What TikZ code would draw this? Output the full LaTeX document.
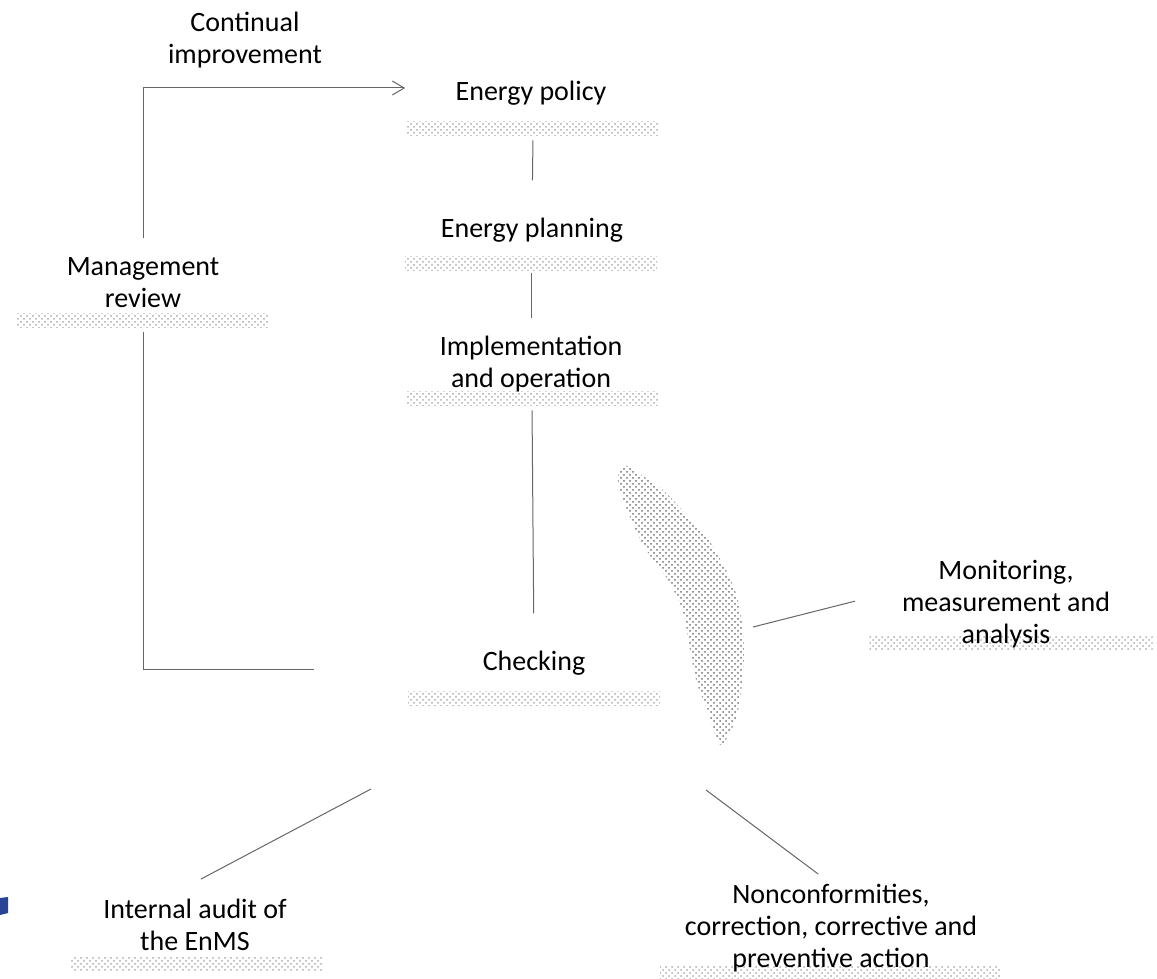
\documentclass[tikz,border=0pt]{standalone}
\usepackage{fontspec}
\setmainfont{Carlito}
\usetikzlibrary{patterns,arrows.meta}
\definecolor{markblue}{RGB}{40,68,150}

\begin{document}
\begin{tikzpicture}[x=0.5pt,y=-0.5pt,
    font=\fontsize{14}{16}\selectfont,
    >={Straight Barb[length=6pt,width=7pt]},
    txt/.style={align=center,inner sep=0pt},
    shadebar/.style={pattern=crosshatch dots,pattern color=black!32,inner sep=0pt,minimum width=126pt,minimum height=7pt},
    conn/.style={draw=black!60,line width=0.5pt}]
    \useasboundingbox (0,0) rectangle (1157,979);
    % dotted bars under the labels
    \node (policybar) [shadebar] at (533,129) {};
    \node (planbar) [shadebar] at (531,263) {};
    \node (implbar) [shadebar] at (532,398) {};
    \node (checkbar) [shadebar] at (534,698) {};
    \node (reviewbar) [shadebar] at (143,320) {};
    \node (monitorbar) [shadebar,minimum width=141.5pt] at (1011,643) {};
    \node (auditbar) [shadebar] at (197,963) {};
    \node (nonconfbar) [shadebar,minimum width=170pt] at (830,972) {};
    % shaded blob and the small mark
    \fill [pattern=crosshatch dots,pattern color=black!55] plot [smooth cycle,tension=0.55] coordinates {
        (622,466) (618,482) (628,512) (645,548) (668,580) (683,612) (690,650) (697,683)
        (708,712) (716,737) (721,745) (728,736) (737,715) (742,683) (744,650) (741,617)
        (733,585) (712,545) (690,519) (665,492) (640,474) (631,468)};
    \fill [markblue] (0,898) -- (8,897) -- (8,913) -- (0,915) -- cycle;
    % labels
    \node (improve) [txt] at (245,40) {Continual\\improvement};
    \node (policy) [txt] at (531,93) {Energy policy};
    \node (planning) [txt] at (532,230) {Energy planning};
    \node (impl) [txt] at (531,364) {Implementation\\and operation};
    \node (checking) [txt] at (534,663) {Checking};
    \node (review) [txt] at (143,283) {Management\\review};
    \node (monitor) [txt] at (1006,604) {Monitoring,\\measurement and\\analysis};
    \node (audit) [txt] at (195,925) {Internal audit of\\the EnMS};
    \node (nonconf) [txt] at (831,928) {Nonconformities,\\correction, corrective and\\preventive action};
    \coordinate (monblob) at (753,627);
    \coordinate (auditfoot) at (371,789);
    \coordinate (nonconffoot) at (706,790);
    % connectors
    \draw [conn,shorten <=2pt,shorten >=18.5pt] (policybar.south) to (planning.north);
    \draw [conn,shorten <=1.5pt,shorten >=9pt] (planbar.south) to (impl.north);
    \draw [conn,shorten <=2.5pt,shorten >=18.5pt] (implbar.south) to (checking.north);
    \draw [conn,->,shorten <=10pt,shorten >=25pt] (review.north) |- ([yshift=2.5pt]policy.west);
    \draw [conn,shorten <=2.5pt,shorten >=84pt] (reviewbar.south) |- ([yshift=-3pt]checking.west);
    \draw [conn,shorten <=24pt] (monitor.172) to (monblob);
    \draw [conn,shorten <=21pt] (audit.140) to (auditfoot);
    \draw [conn,shorten <=8pt] (nonconf.north) to (nonconffoot);
\end{tikzpicture}
\end{document}
